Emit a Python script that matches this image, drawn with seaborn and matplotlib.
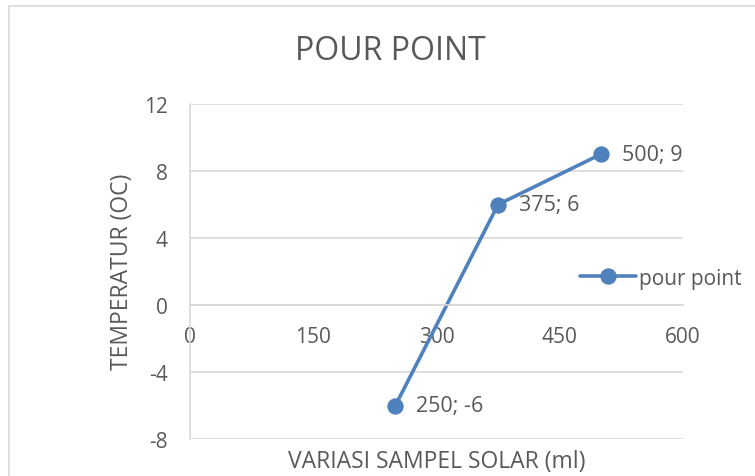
import numpy as np
import pandas as pd
import matplotlib
matplotlib.use("Agg")
import matplotlib.pyplot as plt
import seaborn as sns
from matplotlib.patches import Rectangle

volume = [250, 375, 500]
temperature = [-6, 6, 9]
series_name = "pour point"
x_ticks = [0, 150, 300, 450, 600]
y_ticks = [-8, -4, 0, 4, 8, 12]

df = pd.DataFrame({"volume": volume, "temperature": temperature, "series": series_name})

sns.set_style("white")
plt.rcParams["font.family"] = ["Open Sans", "DejaVu Sans"]
plt.rcParams["axes.unicode_minus"] = False

text_col = "#595959"
line_col = "#4F81BD"
grid_col = "#D9D9D9"

fig = plt.figure(figsize=(7.55, 4.77), dpi=100)
ax = fig.add_axes([190 / 755, 1 - 440 / 477, (683 - 190) / 755, (440 - 105) / 477])

# chart border (cropped at right/bottom)
fig.patches.append(Rectangle((9 / 755, -0.1), 1.2, 1 - 7 / 477 + 0.1,
                             transform=fig.transFigure, fill=False,
                             edgecolor=grid_col, linewidth=1.2))

sns.lineplot(data=df, x="volume", y="temperature", hue="series",
             palette=[line_col], marker="o", markersize=11,
             markeredgecolor=line_col, linewidth=2.6, ax=ax, legend=True)

ax.set_xlim(0, 600)
ax.set_ylim(-8, 12)
ax.set_xticks(x_ticks)
ax.set_yticks(y_ticks)
ax.yaxis.grid(True, color=grid_col, linewidth=1.2)
ax.set_axisbelow(True)

for s in ["top", "right"]:
    ax.spines[s].set_visible(False)
ax.spines["bottom"].set_position(("data", 0))
ax.spines["bottom"].set_color(grid_col)
ax.spines["left"].set_color(grid_col)
ax.spines["bottom"].set_linewidth(1.2)
ax.spines["left"].set_linewidth(1.2)

ax.tick_params(axis="x", direction="out", length=5, width=1.2, color=grid_col,
               pad=10, labelsize=15, labelcolor=text_col)
ax.tick_params(axis="y", direction="out", length=6, width=1.2, color=grid_col,
               pad=10, labelsize=15, labelcolor=text_col)

for x, y in zip(volume, temperature):
    ax.annotate(f"{x}; {y}", (x, y), xytext=(15, 0), textcoords="offset points",
                va="center", ha="left", fontsize=15.5, color=text_col)

ax.set_xlabel("")
ax.set_ylabel("")
fig.text(437 / 755, 1 - 462 / 477, "VARIASI SAMPEL SOLAR (ml)", ha="center",
         va="center", fontsize=16.5, color=text_col)
fig.text(122 / 755, 1 - 272 / 477, "TEMPERATUR (OC)", ha="center", va="center",
         rotation=90, fontsize=16.5, color=text_col)
fig.text(390 / 755, 1 - 52 / 477, "POUR POINT", ha="center", va="center",
         fontsize=23, color=text_col)

ax.legend_.remove()
handles, labels = ax.get_legend_handles_labels()
leg = fig.legend(handles, labels, loc="center left",
                 bbox_to_anchor=(580 / 755, 1 - 279 / 477), frameon=False,
                 fontsize=15, labelcolor=text_col, handlelength=2.7,
                 handletextpad=0.15, borderaxespad=0, borderpad=0)

fig.savefig("out.png", dpi=100)
